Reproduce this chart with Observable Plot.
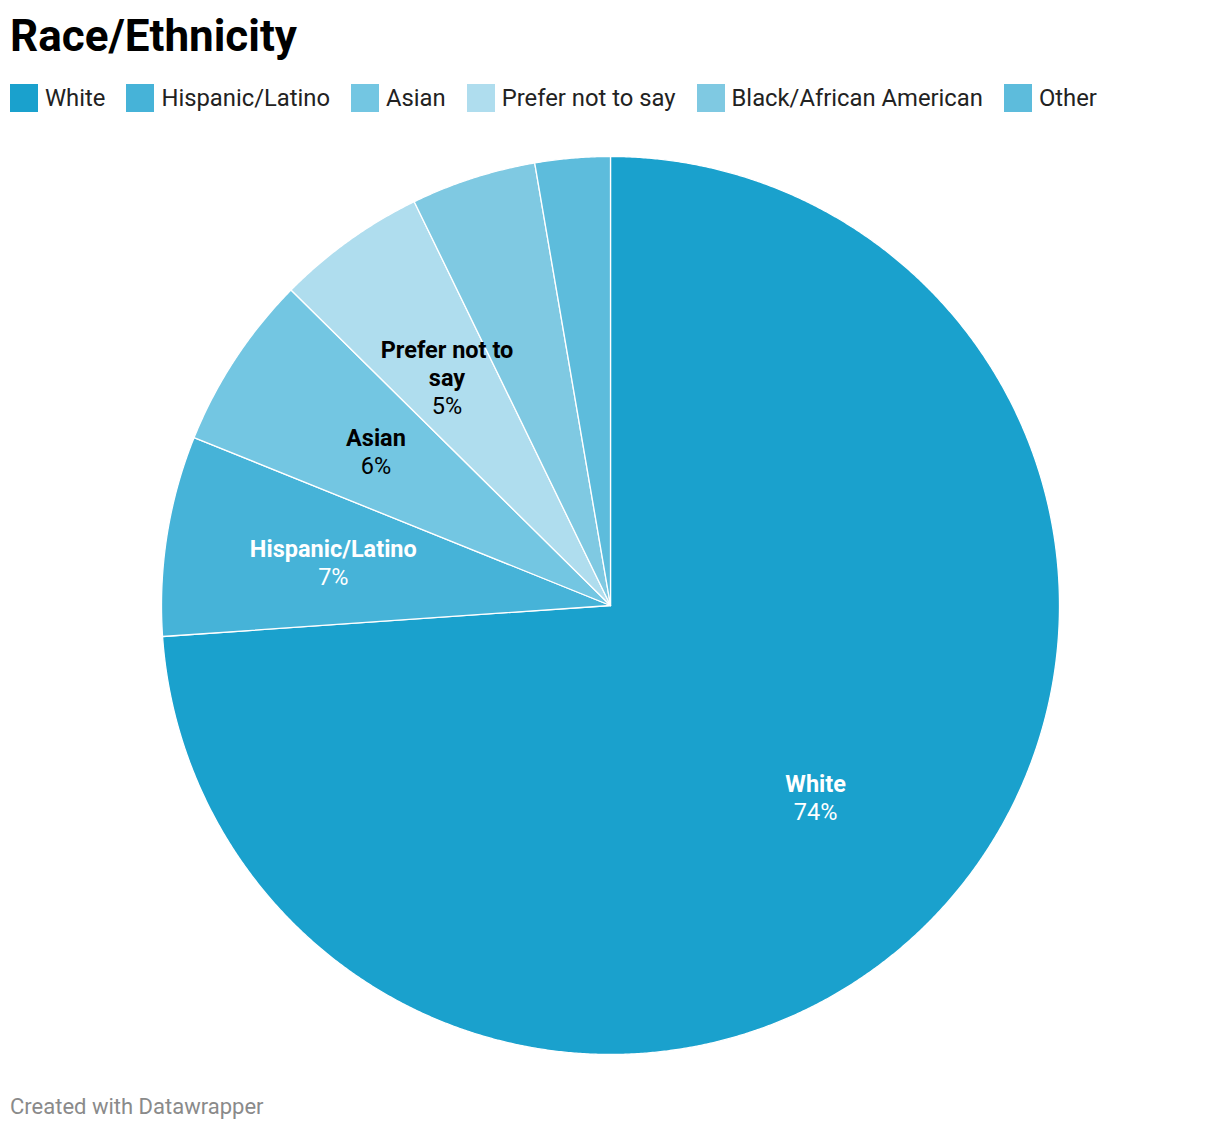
<!DOCTYPE html>
<html>
<head>
<meta charset="utf-8">
<script src="https://cdn.jsdelivr.net/npm/d3@7"></script>
<script src="https://cdn.jsdelivr.net/npm/@observablehq/plot@0.6"></script>
<style>
  html, body { margin: 0; padding: 0; background: #fff; }
  body { width: 1220px; height: 1132px; position: relative; font-family: Roboto, sans-serif; overflow: hidden; }
  #title { position: absolute; left: 10px; top: 14px; margin: 0; font-size: 44px; line-height: 44px; font-weight: 700; color: #000; }
  #legend { position: absolute; left: 10px; top: 84px; display: flex; align-items: center; white-space: nowrap; }
  .item { display: flex; align-items: center; margin-right: 21px; }
  .sw { width: 28px; height: 28px; margin-right: 7px; }
  .lab { font-size: 23.8px; line-height: 28px; color: #222; }
  #chart { position: absolute; left: 0; top: 145px; }
  #footer { position: absolute; left: 10px; top: 1096px; font-size: 22px; line-height: 22px; color: #8a8a8a; }
</style>
</head>
<body>
<h1 id="title">Race/Ethnicity</h1>
<div id="legend"></div>
<div id="chart"></div>
<div id="footer">Created with Datawrapper</div>
<script>
const categories = ["White", "Hispanic/Latino", "Asian", "Prefer not to say", "Black/African American", "Other"];
const values = [73.9, 7.2, 6.3, 5.4, 4.5, 2.7];
const colors = ["#1aa1cd", "#46b3d8", "#73c6e2", "#afddee", "#7fc9e2", "#5dbcdc"];
const labelNames = ["White", "Hispanic/Latino", "Asian", "Prefer not to\nsay", null, null];

// legend
const legend = document.getElementById("legend");
categories.forEach((c, i) => {
  const it = document.createElement("div");
  it.className = "item";
  const sw = document.createElement("div");
  sw.className = "sw";
  sw.style.background = colors[i];
  const lb = document.createElement("span");
  lb.className = "lab";
  lb.textContent = c;
  it.appendChild(sw); it.appendChild(lb);
  legend.appendChild(it);
});

// pie geometry in unit radius
const rows = categories.map((c, i) => ({cat: c, value: values[i], name: labelNames[i]}));
const arcs = d3.pie().sort(null).value(d => d.value)(rows);
const pts = [];
arcs.forEach(a => {
  pts.push({cat: a.data.cat, x: 0, y: 0});
  const n = Math.max(2, Math.ceil((a.endAngle - a.startAngle) / (Math.PI / 720)));
  for (let k = 0; k <= n; k++) {
    const t = a.startAngle + (a.endAngle - a.startAngle) * k / n;
    pts.push({cat: a.data.cat, x: Math.sin(t), y: Math.cos(t)});
  }
});
const labelR = 0.625;
const labels = arcs.filter(a => a.data.name).map(a => {
  const m = (a.startAngle + a.endAngle) / 2;
  const color = colors[categories.indexOf(a.data.cat)];
  const lines = a.data.name.split("\n").length;
  return {
    x: labelR * Math.sin(m), y: labelR * Math.cos(m),
    name: a.data.name + "\n",
    pct: "\n".repeat(lines) + Math.round(a.data.value) + "%",
    ink: d3.hsl(color).l < 0.6 ? "#ffffff" : "#000000"
  };
});

const W = 1220, H = 920, R = 449, CX = 610, CY = 460;
const chart = Plot.plot({
  width: W, height: H, margin: 0,
  style: {fontFamily: "Roboto, sans-serif", background: "transparent"},
  x: {domain: [-CX / R, (W - CX) / R], axis: null},
  y: {domain: [-(H - CY) / R, CY / R], axis: null},
  color: {domain: categories, range: colors},
  marks: [
    Plot.line(pts, {x: "x", y: "y", z: "cat", fill: "cat", stroke: "#ffffff", strokeWidth: 1.3, strokeLinejoin: "round", curve: "linear-closed"}),
    Plot.text(labels, {x: "x", y: "y", text: "name", fill: "ink", fontSize: 23.5, fontWeight: 700, lineHeight: 28 / 23.5, lineAnchor: "middle"}),
    Plot.text(labels, {x: "x", y: "y", text: "pct", fill: "ink", fontSize: 23.5, fontWeight: 400, lineHeight: 28 / 23.5, lineAnchor: "middle"})
  ]
});
document.getElementById("chart").appendChild(chart);
</script>
</body>
</html>
